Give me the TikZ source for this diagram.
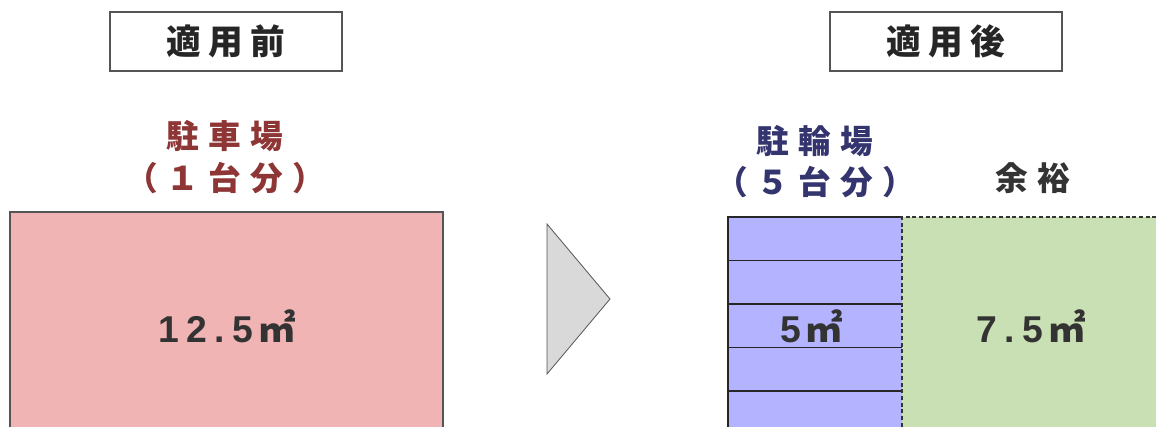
\documentclass[tikz,border=0pt]{standalone}
\usepackage{fontspec}
\setmainfont{Liberation Sans}
\newfontfamily\titlefont{Noto Sans CJK JP}[LetterSpace=22]
\newfontfamily\labelfont{Noto Sans CJK JP}[LetterSpace=28]
\newfontfamily\numfont{Liberation Sans}[LetterSpace=20]
\newfontfamily\unitfont{Noto Sans CJK JP}

\definecolor{boxgray}{HTML}{555555}
\definecolor{inkgray}{HTML}{333333}
\definecolor{carred}{HTML}{8E3535}
\definecolor{carfill}{HTML}{F0B4B4}
\definecolor{bikeblue}{HTML}{34346E}
\definecolor{bikefill}{HTML}{B3B3FF}
\definecolor{sparefill}{HTML}{C9E0B4}
\definecolor{arrowfill}{HTML}{D9D9D9}

\newcommand{\sqmeter}{{\unitfont\hspace{0.12em}㎡}}

\begin{document}
\begin{tikzpicture}[x=0.75pt,y=-0.75pt,
    titlebox/.style={draw=boxgray,line width=0.8pt,minimum width=174pt,minimum height=44.25pt,
      inner sep=0pt,text=black!85,font=\titlefont\bfseries\fontsize{26}{30}\selectfont},
    areatext/.style={anchor=base,text=inkgray,font=\numfont\bfseries\fontsize{28}{32}\selectfont},
    usetext/.style={font=\labelfont\bfseries\fontsize{24.5}{28}\selectfont}]

    \useasboundingbox (0,0) rectangle (1156,426);
    \clip (0,0) rectangle (1156,426);

    % before
    \node[titlebox] (before) at (226,41.5) {適用前};
    \node[usetext,text=carred] (carname) at (225,136) {駐車場};
    \node[usetext,text=carred] (carcount) at (225,178) {（１台分）};
    \draw[fill=carfill,draw=boxgray,line width=0.8pt] (10,212) rectangle (443,440);
    \node[areatext] (cararea) at (227,342) {12.5\sqmeter};

    % arrow
    \draw[fill=arrowfill,draw=boxgray,line width=0.6pt] (547,224) -- (610,299) -- (547,374) -- cycle;

    % after
    \node[titlebox] (after) at (946,41.5) {適用後};
    \node[usetext,text=bikeblue] (bikename) at (815,141) {駐輪場};
    \node[usetext,text=bikeblue] (bikecount) at (815,182) {（５台分）};
    \node[usetext,text=inkgray] (spare) at (1033,178) {余裕};

    \fill[bikefill] (728,217) rectangle (902,440);
    \foreach \i in {1,...,4}
        \draw[black!85,line width=0.8pt] (728,217+43.5*\i) -- (902,217+43.5*\i);
    \draw[black!85,line width=0.8pt] (902,217) -- (728,217) -- (728,440);
    \fill[sparefill] (902,217) rectangle (1160,440);
    \draw[black!80,line width=0.8pt,dashed,dash pattern=on 3pt off 2pt] (902,440) -- (902,217) -- (1160,217);

    \node[areatext] (bikearea) at (812,342) {5\sqmeter};
    \node[areatext] (sparearea) at (1031,342) {7.5\sqmeter};

\end{tikzpicture}
\end{document}
